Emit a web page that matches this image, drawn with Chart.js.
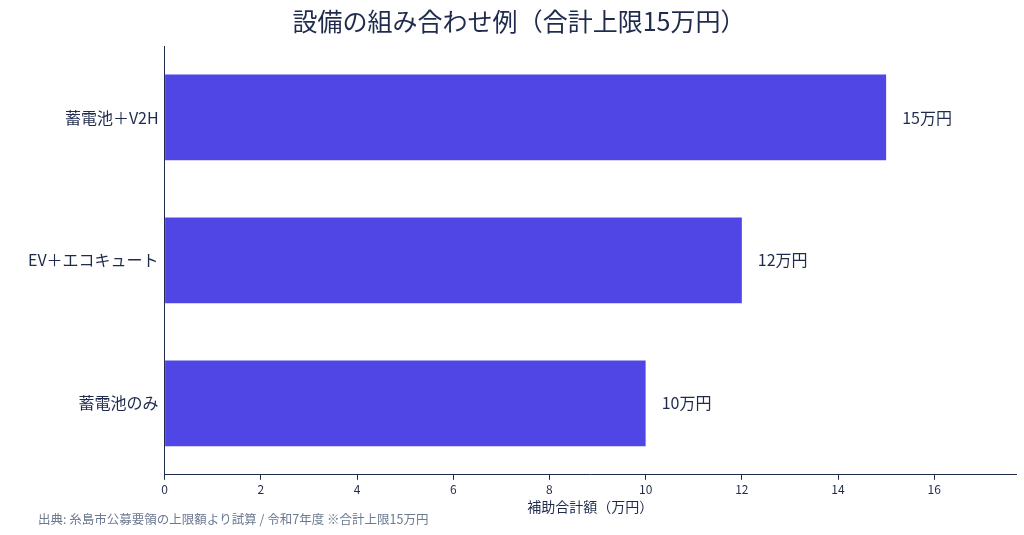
<!DOCTYPE html>
<html><head><meta charset="utf-8">
<script src="https://cdn.jsdelivr.net/npm/chart.js@4"></script>
<style>html,body{margin:0;padding:0;background:#fff}#w{width:1024px;height:535px}</style>
</head><body><div id="w"><canvas id="c"></canvas></div>
<script>
const categories = ["蓄電池＋V2H", "EV＋エコキュート", "蓄電池のみ"];
const values = [15, 12, 10];
const valueLabels = ["15万円", "12万円", "10万円"];
const FONT = '"Noto Sans CJK JP","Noto Sans",sans-serif';
const TXT = '#1f2b4d';
const labelPlugin = {
  id: 'lbl',
  afterDatasetsDraw(chart) {
    const ctx = chart.ctx;
    const meta = chart.getDatasetMeta(0);
    ctx.save();
    ctx.font = '16px ' + FONT;
    ctx.fillStyle = TXT;
    ctx.textBaseline = 'middle';
    meta.data.forEach((b, i) => ctx.fillText(valueLabels[i], b.x + 16, b.y));
    ctx.font = '12.5px ' + FONT;
    ctx.fillStyle = '#6b7a90';
    ctx.fillText('出典: 糸島市公募要領の上限額より試算 / 令和7年度 ※合計上限15万円', 38, 519);
    ctx.restore();
  }
};
new Chart(document.getElementById('c'), {
  type: 'bar',
  data: { labels: categories, datasets: [{ data: values, backgroundColor: '#4f46e5', categoryPercentage: 0.6, barPercentage: 1 }] },
  options: {
    indexAxis: 'y', responsive: true, maintainAspectRatio: false, animation: false,
    layout: { padding: { left: 22, right: 8, top: 0, bottom: 16 } },
    plugins: {
      legend: { display: false }, tooltip: { enabled: false },
      title: { display: true, text: '設備の組み合わせ例（合計上限15万円）', color: TXT, font: { family: FONT, size: 25, weight: 'normal' }, padding: { top: 6, bottom: 10 } }
    },
    scales: {
      x: {
        min: 0, max: 17.7,
        afterBuildTicks(s) { s.ticks = s.ticks.filter(t => Number.isInteger(t.value) && t.value % 2 === 0); },
        ticks: { stepSize: 2, color: TXT, font: { family: FONT, size: 12 }, padding: 2 },
        grid: { drawOnChartArea: false, drawTicks: true, tickLength: 5, color: TXT },
        border: { color: TXT },
        title: { display: true, text: '補助合計額（万円）', color: TXT, font: { family: FONT, size: 14 }, padding: { top: 0 } }
      },
      y: {
        ticks: { color: TXT, font: { family: FONT, size: 16 }, padding: 6 },
        grid: { drawOnChartArea: false, drawTicks: false, color: TXT },
        border: { color: TXT }
      }
    }
  },
  plugins: [labelPlugin]
});
</script></body></html>
